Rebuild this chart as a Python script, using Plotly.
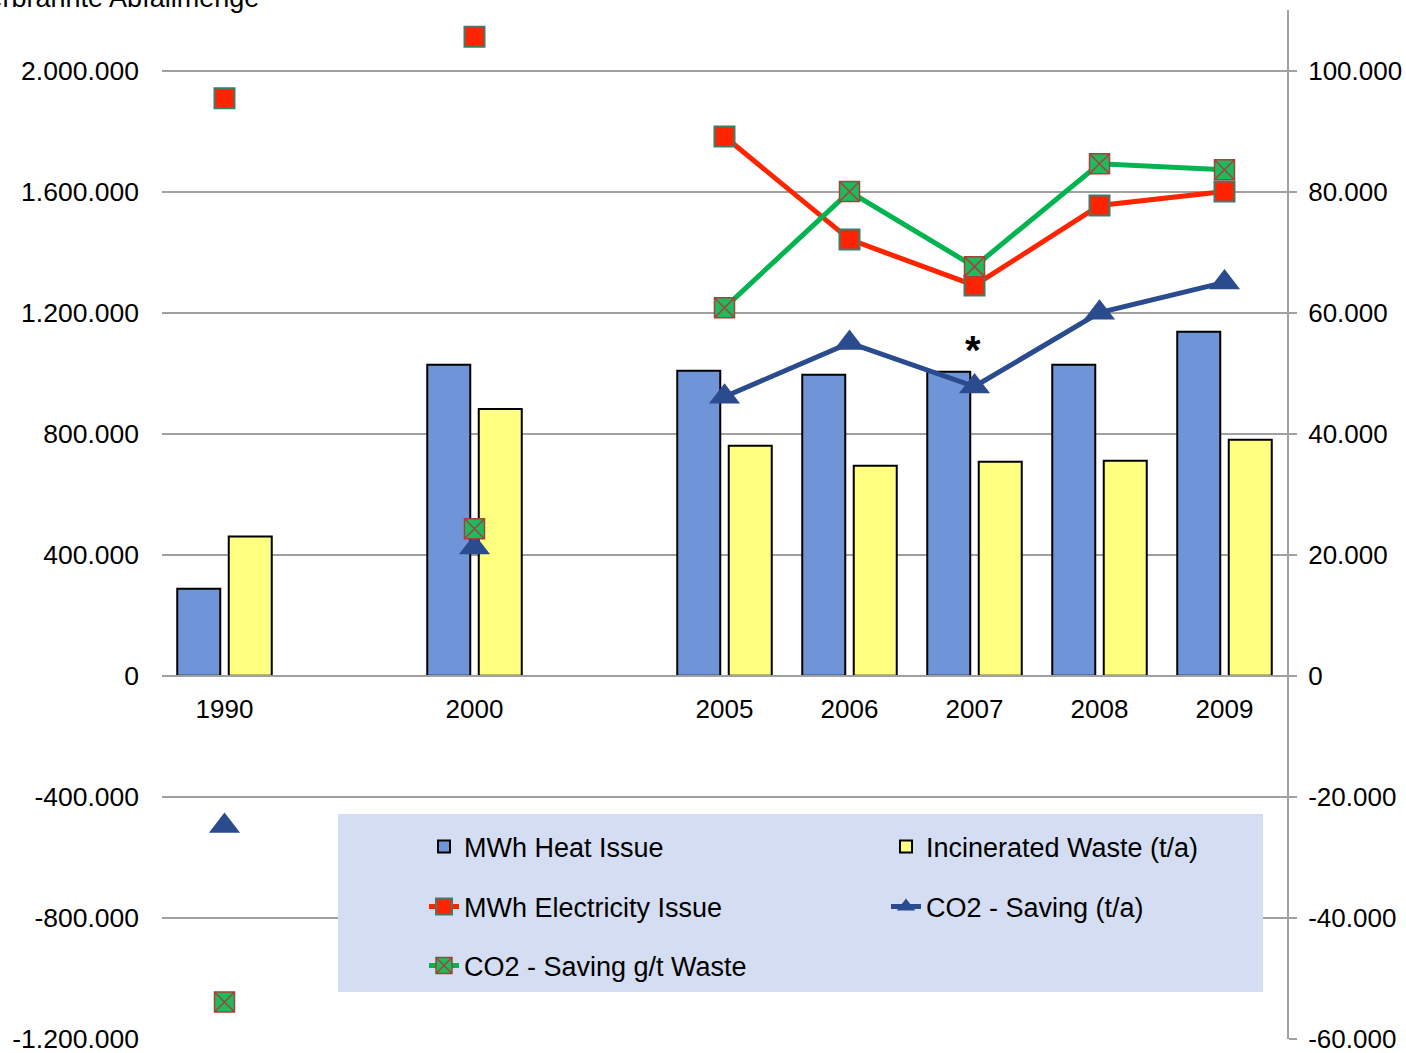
import plotly.graph_objects as go

# Axis slots: blank slots keep the spacing between 1990, 2000 and 2005
year_labels = ["1990", "", "2000", "", "2005", "2006", "2007", "2008", "2009"]
slots = list(range(len(year_labels)))

# Bars (left axis)
heat_issue = [288000, None, 1028000, None, 1008000, 995000, 1005000, 1028000, 1137000]
incinerated_waste = [460000, None, 882000, None, 760000, 694000, 707000, 711000, 780000]

# Lines (right axis)
electricity_issue = [95400, None, 105600, None, 89100, 72100, 64500, 77700, 80000]
co2_saving_t = [-24800, None, 21200, None, 46100, 55000, 47800, 60000, 65000]
co2_saving_g = [-53900, None, 24300, None, 60800, 80000, 67600, 84600, 83600]

left_ticks = [-1200000, -800000, -400000, 0, 400000, 800000, 1200000, 1600000, 2000000]
right_ticks = [-60000, -40000, -20000, 0, 20000, 40000, 60000, 80000, 100000]


def de_format(v):
    return f"{v:,}".replace(",", ".")


FONT = "Liberation Sans, Arial, sans-serif"
GRID = "#A0A0A0"

fig = go.Figure()

fig.add_trace(go.Bar(
    x=slots, y=heat_issue, name="MWh Heat Issue",
    marker=dict(color="#7094D8", line=dict(color="black", width=2)),
    legend="legend",
))
fig.add_trace(go.Bar(
    x=slots, y=incinerated_waste, name="Incinerated Waste (t/a)",
    marker=dict(color="#FFFF80", line=dict(color="black", width=2)),
    legend="legend2",
))
fig.add_trace(go.Scatter(
    x=slots, y=electricity_issue, name="MWh Electricity Issue", yaxis="y2",
    mode="lines+markers", connectgaps=False,
    line=dict(color="#FF2400", width=5),
    marker=dict(symbol="square", size=20, color="#FF2400",
                line=dict(color="#3F7C6A", width=2)),
    legend="legend3",
))
fig.add_trace(go.Scatter(
    x=slots, y=co2_saving_t, name="CO2 - Saving (t/a)", yaxis="y2",
    mode="lines+markers", connectgaps=False,
    line=dict(color="#2A4B8D", width=5),
    marker=dict(symbol="triangle-up", size=27, color="#2A4B8D"),
    legend="legend4",
))
fig.add_trace(go.Scatter(
    x=slots, y=co2_saving_g, name="CO2 - Saving g/t Waste", yaxis="y2",
    mode="lines+markers", connectgaps=False,
    line=dict(color="#00B450", width=5),
    marker=dict(symbol="square-x", size=20, color="#1CBB5E",
                line=dict(color="#A8403A", width=1.5)),
    legend="legend5",
))

# Marker above the 2007 value
fig.add_annotation(x=year_labels.index("2007"), y=1075000, yref="y", text="<b>*</b>",
                   xshift=-2, showarrow=False,
                   font=dict(family=FONT, size=40, color="black"))

# Axis title, partly running off the top-left edge
fig.add_annotation(x=(261 - 162) / 1125, y=(1039 - 15) / 1029, xref="paper", yref="paper",
                   xanchor="right", yanchor="bottom", text="Verbrannte Abfallmenge",
                   showarrow=False, font=dict(family=FONT, size=27, color="black"))

# Legend background panel
fig.add_shape(type="rect", xref="paper", yref="paper",
              x0=(338 - 162) / 1125, x1=(1263 - 162) / 1125,
              y0=(1039 - 992) / 1029, y1=(1039 - 814) / 1029,
              fillcolor="#D4DDF1", line=dict(width=0), layer="above")

col_x = [(424 - 162) / 1125, (886 - 162) / 1125]
row_y = [(1039 - 847) / 1029, (1039 - 907) / 1029, (1039 - 966) / 1029]
leg_common = dict(bgcolor="rgba(0,0,0,0)", font=dict(family=FONT, size=27, color="black"),
                  xanchor="left", yanchor="middle", orientation="v")

fig.update_layout(
    width=1406, height=1053,
    margin=dict(l=162, r=119, t=10, b=14, autoexpand=False),
    paper_bgcolor="white", plot_bgcolor="white",
    font=dict(family=FONT, size=26, color="black"),
    barmode="group", bargap=0.176, bargroupgap=0.165,
    showlegend=True,
    legend=dict(x=col_x[0], y=row_y[0], **leg_common),
    legend2=dict(x=col_x[1], y=row_y[0], **leg_common),
    legend3=dict(x=col_x[0], y=row_y[1], **leg_common),
    legend4=dict(x=col_x[1], y=row_y[1], **leg_common),
    legend5=dict(x=col_x[0], y=row_y[2], **leg_common),
    xaxis=dict(range=[-0.5, len(slots) - 0.5], tickvals=slots, ticktext=year_labels,
               anchor="free", position=1.2 / 3.4, automargin=False,
               showline=True, linecolor=GRID, linewidth=2, showgrid=False,
               zeroline=False, ticks="", ticklabelstandoff=10,
               tickfont=dict(family=FONT, size=26)),
    yaxis=dict(range=[-1200000, 2200000], tickvals=left_ticks,
               ticktext=[de_format(v) for v in left_ticks], automargin=False,
               ticklabeloverflow="allow",
               showgrid=True, gridcolor=GRID, gridwidth=2, zeroline=False,
               showline=False, ticks="", ticklabelstandoff=22,
               tickfont=dict(family=FONT, size=26.5)),
    yaxis2=dict(range=[-60000, 110000], tickvals=right_ticks,
                ticktext=[de_format(v) for v in right_ticks], automargin=False,
                ticklabeloverflow="allow",
                overlaying="y", side="right", showgrid=False, zeroline=False,
                showline=True, linecolor=GRID, linewidth=2,
                ticks="outside", ticklen=8, tickcolor=GRID, tickwidth=2,
                ticklabelstandoff=6,
                tickfont=dict(family=FONT, size=26)),
)

fig.write_html("out.html")
